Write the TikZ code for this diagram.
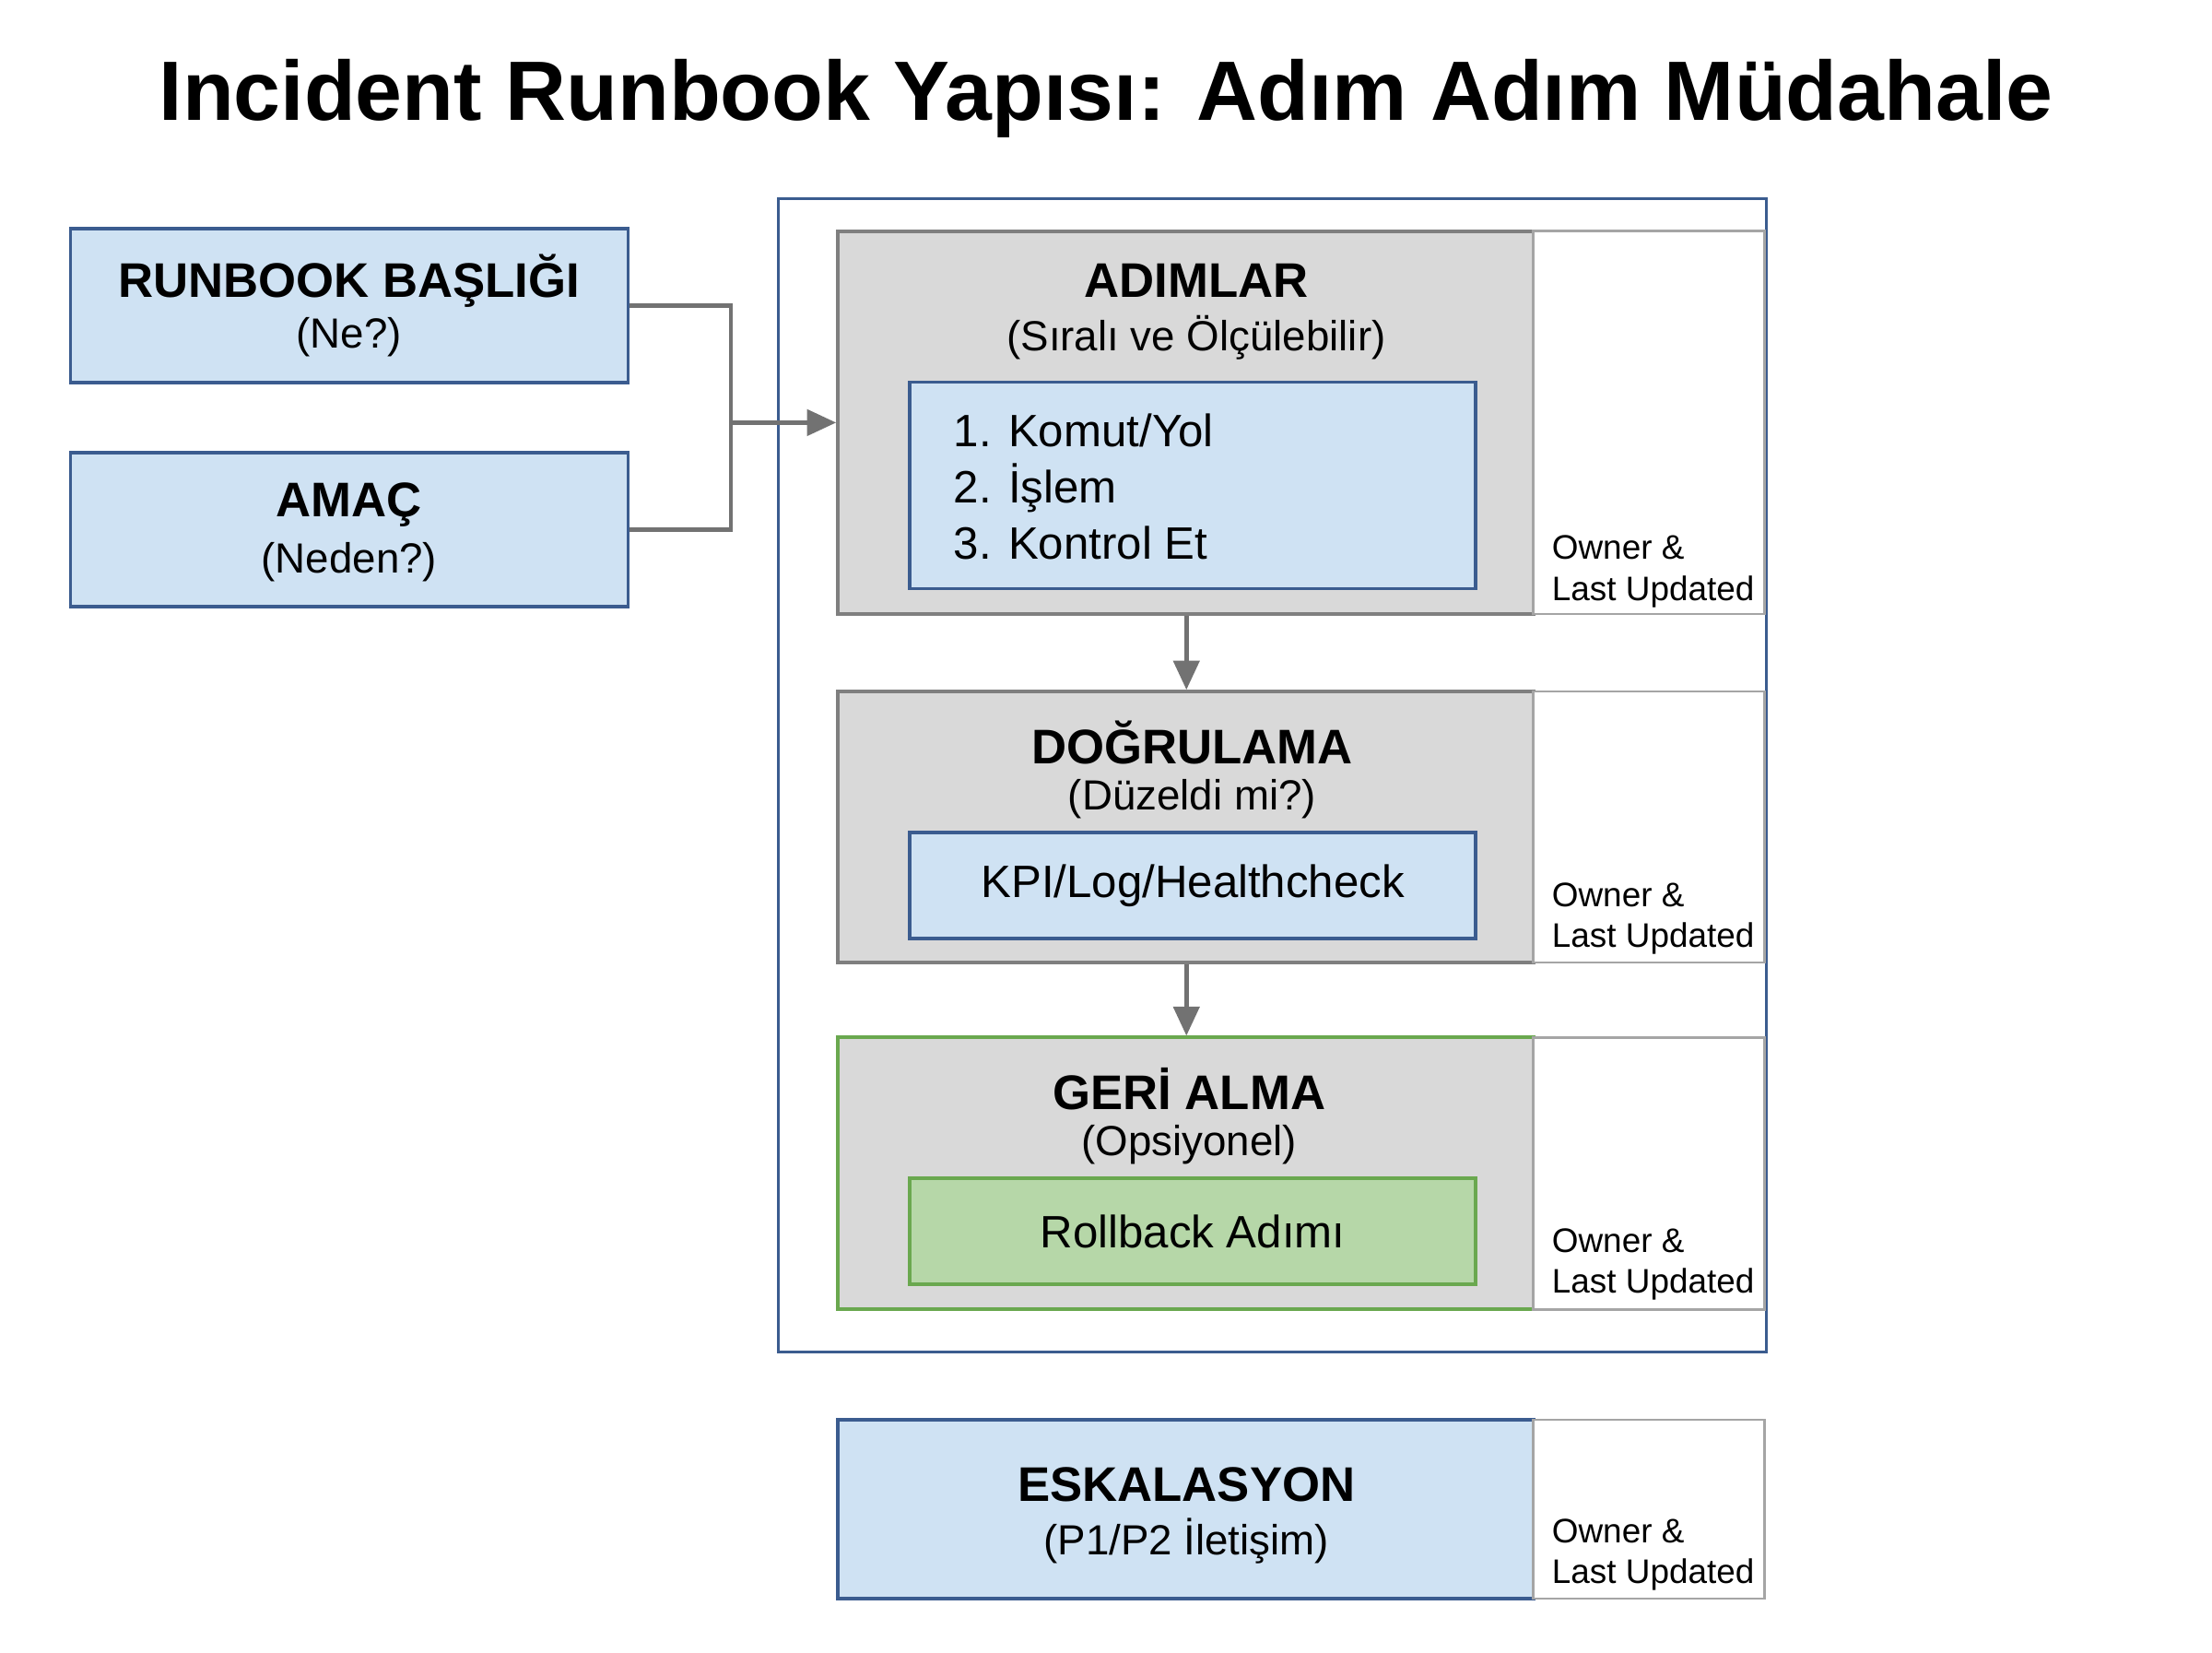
\documentclass[tikz,border=0pt]{standalone}
\usepackage{fontspec}
\setmainfont{Liberation Sans}
\usetikzlibrary{arrows.meta}
\definecolor{bluefill}{HTML}{CFE2F3}
\definecolor{blueline}{HTML}{3B5C8F}
\definecolor{grayfill}{HTML}{D9D9D9}
\definecolor{grayline}{HTML}{7F7F7F}
\definecolor{greenfill}{HTML}{B6D7A8}
\definecolor{greenline}{HTML}{6AA84F}
\tikzset{
  bluebox/.style={draw=blueline,fill=bluefill,line width=1pt,inner sep=0pt},
  graybox/.style={draw=grayline,fill=grayfill,line width=1pt,inner sep=0pt},
  greenbox/.style={draw=greenline,fill=greenfill,line width=1pt,inner sep=0pt},
  sidebox/.style={draw=grayline!70,fill=white,line width=0.8pt,inner sep=0pt,minimum width=2.51cm},
  head/.style={font=\fontsize{15}{18}\selectfont\bfseries},
  sub/.style={font=\fontsize{13}{16}\selectfont},
  owner/.style={font=\fontsize{10.5}{12.6}\selectfont,align=left,anchor=west},
  conn/.style={draw=grayline!90!black,line width=1.3pt},
}
\begin{document}
\begin{tikzpicture}[x=0.01531cm,y=-0.01531cm]
  \useasboundingbox[fill=white] (0,0) rectangle (1568,1171);
  % Titel
  \node[font=\fontsize{26}{30}\selectfont\bfseries] (title) at (784,70) {Incident Runbook Yapısı: Adım Adım Müdahale};

  % linke Boxen
  \node[bluebox,minimum width=6.05cm,minimum height=1.67cm] (rb) at (247.5,216.5) {};
  \node[head] (rbh) at (247.5,199) {RUNBOOK BAŞLIĞI};
  \node[sub] (rbs) at (247.5,239) {(Ne?)};
  \node[bluebox,minimum width=6.05cm,minimum height=1.67cm] (am) at (247.5,375.5) {};
  \node[head] (amh) at (247.5,358) {AMAÇ};
  \node[sub] (ams) at (247.5,398) {(Neden?)};

  % Rahmen
  \node[draw=blueline,line width=1pt,minimum width=10.72cm,minimum height=12.51cm,inner sep=0pt] (frame) at (902,549.5) {};

  % Adimlar
  \node[graybox,minimum width=7.55cm,minimum height=4.15cm] (ad) at (840.5,299.5) {};
  \node[sidebox,minimum height=4.15cm] (ads) at (1169,299.5) {};
  \node[head] (adh) at (848,199) {ADIMLAR};
  \node[sub] (adsub) at (848,239) {(Sıralı ve Ölçülebilir)};
  \node[bluebox,minimum width=6.14cm,minimum height=2.24cm] (adi) at (845.5,344) {};
  \node[font=\fontsize{14}{17.4}\selectfont,align=left,anchor=west] (adt) at (668,345) {1. Komut/Yol\\2. İşlem\\3. Kontrol Et};
  \node[owner] (ado) at (1092,405) {Owner \&\\Last Updated};

  % Dogrulama
  \node[graybox,minimum width=7.55cm,minimum height=2.94cm] (dg) at (840.5,586) {};
  \node[sidebox,minimum height=2.94cm] (dgs) at (1169,586) {};
  \node[head] (dgh) at (845,526) {DOĞRULAMA};
  \node[sub] (dgsub) at (845,566) {(Düzeldi mi?)};
  \node[bluebox,minimum width=6.14cm,minimum height=1.15cm,font=\fontsize{14}{17}\selectfont] (dgi) at (845.5,627.5) {KPI/Log/Healthcheck};
  \node[owner] (dgo) at (1092,651) {Owner \&\\Last Updated};

  % Geri alma
  \node[graybox,draw=greenline,minimum width=7.55cm,minimum height=2.95cm] (ga) at (840.5,831.5) {};
  \node[sidebox,minimum height=2.95cm] (gas) at (1169,831.5) {};
  \node[head] (gah) at (843,772) {GERİ ALMA};
  \node[sub] (gasub) at (843,811) {(Opsiyonel)};
  \node[greenbox,minimum width=6.14cm,minimum height=1.15cm,font=\fontsize{14}{17}\selectfont] (gai) at (845.5,872.5) {Rollback Adımı};
  \node[owner] (gao) at (1092,896) {Owner \&\\Last Updated};

  % Eskalasyon
  \node[bluebox,minimum width=7.55cm,minimum height=1.94cm] (es) at (840.5,1069.5) {};
  \node[sidebox,minimum height=1.94cm] (ess) at (1169,1069.5) {};
  \node[head] (esh) at (841,1052) {ESKALASYON};
  \node[sub] (essub) at (841,1092) {(P1/P2 İletişim)};
  \node[owner] (eso) at (1092,1102) {Owner \&\\Last Updated};

  % Verbindungen
  \coordinate (j) at (518,299.5);
  \draw[conn] (rb.east) -| (j);
  \draw[conn] (am.east) -| (j);
  \draw[conn,-{Triangle[length=9pt,width=8pt]}] (j) -- (ad.west);
  \draw[conn,-{Triangle[length=9pt,width=8pt]}] (ad.south -| 841,0) -- (dg.north -| 841,0);
  \draw[conn,-{Triangle[length=9pt,width=8pt]}] (dg.south -| 841,0) -- (ga.north -| 841,0);
\end{tikzpicture}
\end{document}
